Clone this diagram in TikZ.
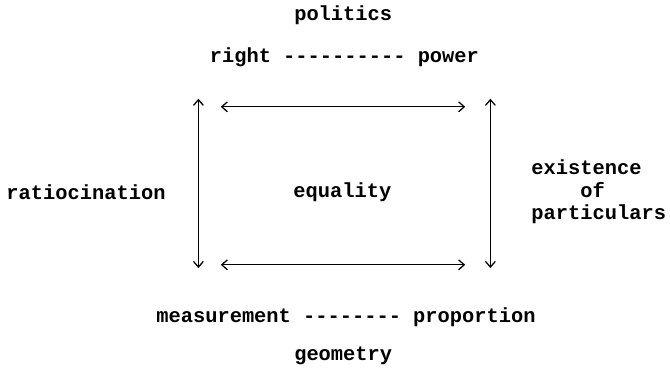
\documentclass[tikz,border=0pt]{standalone}
\usepackage{fontspec}
\setmonofont{Liberation Mono}
\usetikzlibrary{arrows.meta}

\begin{document}
\begin{tikzpicture}[
  every node/.style={font=\ttfamily\bfseries\fontsize{14.5}{16}\selectfont, inner sep=0pt},
  arr/.style={{Straight Barb[length=4pt,width=7pt]}-{Straight Barb[length=4pt,width=7pt]}, line width=0.9pt}
]
  \useasboundingbox (0,0) rectangle (16.75,9.2);

  % Define the ends of the arrows
  \coordinate (nw) at (4.96,6.73);
  \coordinate (sw) at (4.96,2.5);
  \coordinate (ne) at (12.26,6.73);
  \coordinate (se) at (12.26,2.5);
  \coordinate (tl) at (5.52,6.53);
  \coordinate (tr) at (11.63,6.53);
  \coordinate (bl) at (5.52,2.58);
  \coordinate (br) at (11.63,2.58);

  % Draw the arrows
  \draw[arr] (tl) -- (tr);
  \draw[arr] (bl) -- (br);
  \draw[arr] (nw) -- (sw);
  \draw[arr] (ne) -- (se);

  % Label the sides
  \node (politics) at (8.58,8.82) {politics};
  \node (rightpower) at (8.61,7.78) {right ---------- power};
  \node (ratio) at (2.15,4.4) {ratiocination};
  \node (equality) at (8.56,4.4) {equality};
  \node[anchor=west, align=left] (exist) at (13.28,4.4) {existence\\\phantom{exis}of\\particulars};
  \node (measure) at (8.65,1.28) {measurement -------- proportion};
  \node (geometry) at (8.58,0.3) {geometry};
\end{tikzpicture}
\end{document}
